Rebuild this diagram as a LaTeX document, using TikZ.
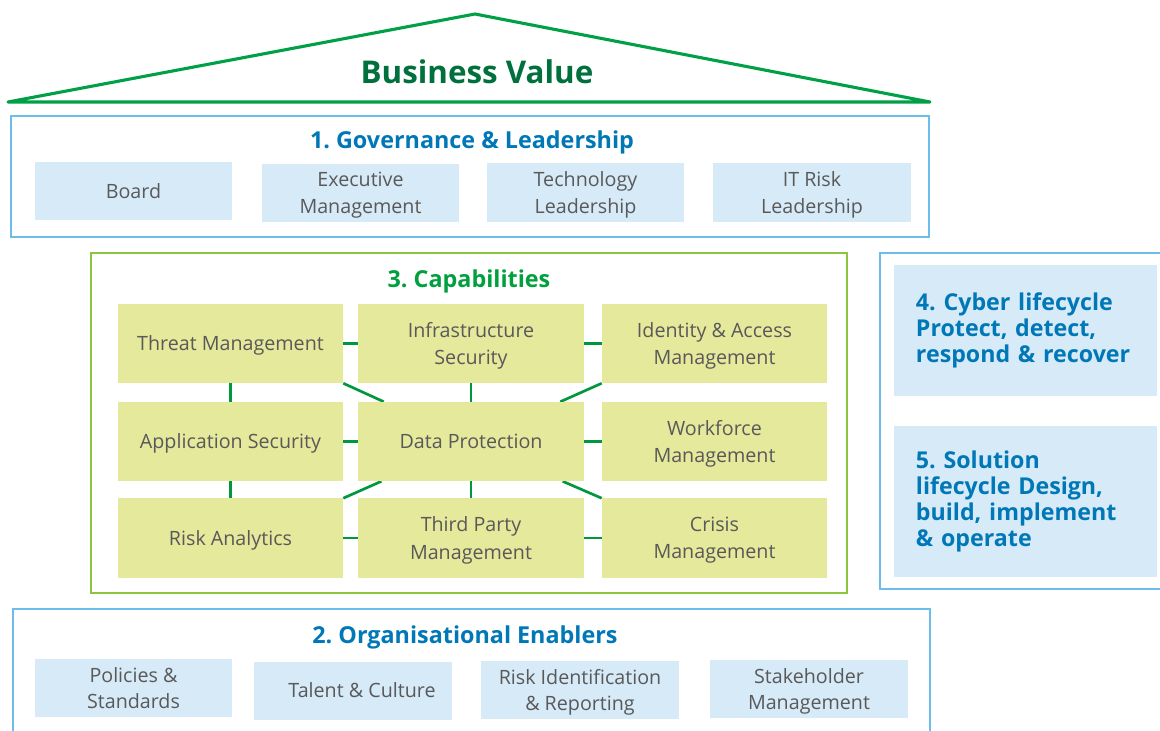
\documentclass[tikz,border=0pt]{standalone}
\usepackage{fontspec}
\setmainfont{Open Sans}
\usetikzlibrary{backgrounds}
\definecolor{roofgreen}{HTML}{00A047}
\definecolor{valuegreen}{HTML}{00703C}
\definecolor{frameblue}{HTML}{6DBDEB}
\definecolor{titleblue}{HTML}{0077B6}
\definecolor{paleblue}{HTML}{D6EAF8}
\definecolor{framegreen}{HTML}{8CC63F}
\definecolor{capgreen}{HTML}{00A03E}
\definecolor{palelime}{HTML}{E5E99B}
\definecolor{linkgreen}{HTML}{00973F}
\definecolor{labelgray}{HTML}{595959}
\frenchspacing

\begin{document}
\begin{tikzpicture}[x=0.025cm,y=-0.025cm,
  govbox/.style={fill=paleblue,text=labelgray,minimum width=4.925cm,minimum height=1.45cm,align=center,inner sep=0pt,text depth=0pt,font=\fontsize{14}{19}\selectfont},
  capbox/.style={fill=palelime,text=labelgray,minimum width=5.625cm,minimum height=1.975cm,align=center,inner sep=0pt,text depth=0pt,font=\fontsize{14}{19.5}\selectfont},
  sidebox/.style={fill=paleblue,text=titleblue,text width=5.475cm,inner xsep=0.55cm,inner ysep=0pt,align=left,font=\bfseries\fontsize{16.5}{18.7}\selectfont},
  heading/.style={text depth=0pt,font=\bfseries\fontsize{16.6}{20}\selectfont},
  frame/.style={line width=2pt}]
\useasboundingbox (0,0) rectangle (1160,731);

% roof
\draw[roofgreen,line width=2.2pt,line join=round] (8,102) -- (475,14) -- (930,102) -- cycle;
\node[valuegreen,font=\bfseries\fontsize{22.3}{24}\selectfont] (value) at (477,72) {Business Value};

% governance
\draw[frameblue,frame] (11,116) rectangle (929,237);
\node[heading,titleblue] (gov) at (472,140) {1. Governance \& Leadership};
\node[govbox] (board) at (133.5,191) {Board};
\node[govbox] (exec) at (360.5,193) {Executive\\Management};
\node[govbox] (tech) at (585.5,192.5) {Technology\\Leadership};
\node[govbox] (itrisk) at (812,192.5) {IT Risk\\Leadership};

% capabilities
\draw[framegreen,frame] (91,253) rectangle (847,593);
\node[heading,capgreen] (caps) at (469,279) {3. Capabilities};
\node[capbox] (threat) at (230.5,343.5) {Threat Management};
\node[capbox] (infra) at (471,343.5) {Infrastructure\\Security};
\node[capbox] (identity) at (714.5,343.5) {Identity \& Access\\Management};
\node[capbox] (appsec) at (230.5,441.5) {Application Security};
\node[capbox] (dataprot) at (471,441.5) {Data Protection};
\node[capbox] (workforce) at (714.5,441.5) {Workforce\\Management};
\node[capbox] (riskan) at (230.5,538) {Risk Analytics};
\node[capbox] (thirdparty) at (471,538) {Third Party\\Management};
\node[capbox] (crisis) at (714.5,538) {Crisis\\Management};

\begin{pgfonlayer}{background}
\foreach \from/\to in {threat/infra,infra/identity,appsec/dataprot,dataprot/workforce,riskan/thirdparty,thirdparty/crisis,threat/appsec,appsec/riskan,infra/dataprot,dataprot/thirdparty,threat.south east/dataprot,identity.south west/dataprot,riskan.north east/dataprot,crisis.north west/dataprot}
\draw[linkgreen,line width=1.9pt] (\from) -- (\to);
\end{pgfonlayer}

% lifecycles
\draw[frameblue,frame] (1162,253) -| (880,589) -- (1162,589);
\node[sidebox,minimum height=3.275cm] (cyber) at (1025.5,330.5) {4. Cyber lifecycle\\Protect, detect,\\respond \& recover};
\node[sidebox,minimum height=3.775cm] (solution) at (1025.5,501.5) {5. Solution\\lifecycle Design,\\build, implement\\\& operate};

% enablers
\draw[frameblue,frame] (13,733) |- (930,609) -- (930,733);
\node[heading,titleblue] (enablers) at (465,635) {2. Organisational Enablers};
\node[govbox] (policies) at (133.5,688) {Policies \&\\Standards};
\node[govbox] (talent) at (353,690.5) {\hspace*{0.45cm}Talent \& Culture};
\node[govbox] (riskid) at (580,690) {Risk Identification\\\& Reporting};
\node[govbox] (stake) at (809,689) {Stakeholder\\Management};
\end{tikzpicture}
\end{document}
